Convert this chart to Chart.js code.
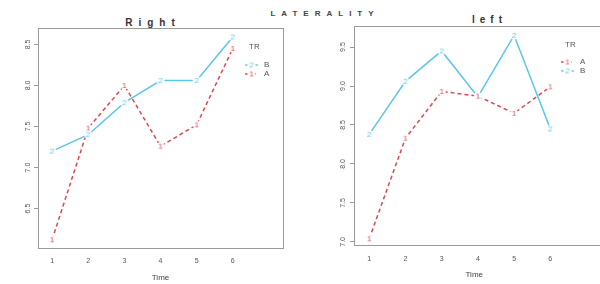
<!DOCTYPE html>
<html><head><meta charset="utf-8">
<script src="https://cdn.jsdelivr.net/npm/chart.js@4"></script>
<style>
body{margin:0;width:600px;height:284px;background:#fff;position:relative;overflow:hidden;font-family:"Liberation Sans",Arial,sans-serif}
.c{position:absolute;top:0;width:300px;height:284px}
.t{position:absolute;color:#333;font-weight:bold;white-space:nowrap;transform:translate(-50%,-50%)}
</style></head><body>
<div class="t" style="left:322px;top:13px;font-size:8px;letter-spacing:6px;padding-left:6px;color:#444">LATERALITY</div>
<div class="t" style="left:150px;top:22px;font-size:10px;letter-spacing:6px;padding-left:6px">Right</div>
<div class="t" style="left:487px;top:19px;font-size:10px;letter-spacing:5px;padding-left:5px">left</div>
<div class="c" style="left:0"><canvas id="c1" width="300" height="284"></canvas></div>
<div class="c" style="left:300px"><canvas id="c2" width="300" height="284"></canvas></div>
<script>
// ---- data ----
const time = [1, 2, 3, 4, 5, 6];
const timeTicks = [1, 2, 3, 4, 5, 6];
const rightB = [7.20, 7.40, 7.79, 8.06, 8.06, 8.59];
const rightA = [6.12, 7.48, 8.00, 7.26, 7.52, 8.45];
const leftA = [7.04, 8.33, 8.93, 8.87, 8.65, 8.99];
const leftB = [8.38, 9.06, 9.45, 8.86, 9.65, 8.45];
const rightYTicks = [6.5, 7.0, 7.5, 8.0, 8.5];
const leftYTicks = [7.0, 7.5, 8.0, 8.5, 9.0, 9.5];
const legendTitle = 'TR';

const CYAN = 'rgb(92,198,232)';
const RED = 'rgb(218,72,82)';
const AXIS = '#9a9a9a';
const TXT = '#555';

function digitImg(d, color) {
  const c = document.createElement('canvas');
  c.width = 10; c.height = 11;
  const g = c.getContext('2d');
  g.fillStyle = '#fff';
  g.beginPath(); g.arc(5, 5.5, 4, 0, Math.PI * 2); g.fill();
  g.fillStyle = color;
  g.font = '8px "Liberation Sans", Arial, sans-serif';
  g.textAlign = 'center'; g.textBaseline = 'middle';
  g.fillText(d, 5, 6);
  return c;
}

function series(label, vals, color, digit, dashed) {
  return {
    label,
    data: time.map((t, i) => ({ x: t, y: vals[i] })),
    borderColor: color,
    backgroundColor: color,
    borderWidth: 1.5,
    borderDash: dashed ? [4, 3] : [],
    pointStyle: digitImg(digit, color),
    pointRadius: 4,
    tension: 0,
    fill: false
  };
}

const framePlugin = {
  id: 'frame',
  beforeDatasetsDraw(chart, args, opts) {
    const a = chart.chartArea, g = chart.ctx;
    const right = opts.toEdge ? chart.width + 1 : Math.round(a.right) + 0.5;
    const l = Math.round(a.left) + 0.5, t = Math.round(a.top) + 0.5, b = Math.round(a.bottom) + 0.5;
    g.save(); g.strokeStyle = AXIS; g.lineWidth = 1;
    g.strokeRect(l, t, right - l, b - t);
    g.restore();
  }
};

const yLabelPlugin = {
  id: 'ylabels',
  afterDraw(chart, args, opts) {
    const g = chart.ctx, s = chart.scales.y;
    g.save();
    g.fillStyle = TXT;
    g.font = '7px "Liberation Sans", Arial, sans-serif';
    g.textAlign = 'center'; g.textBaseline = 'middle';
    opts.ticks.forEach(v => {
      const py = s.getPixelForValue(v);
      g.save(); g.translate(opts.x, py); g.rotate(-Math.PI / 2);
      g.fillText(v.toFixed(1), 0, 0);
      g.restore();
    });
    g.restore();
  }
};

const legendPlugin = {
  id: 'rlegend',
  afterDraw(chart, args, opts) {
    const g = chart.ctx;
    g.save();
    g.fillStyle = TXT;
    g.font = '8px "Liberation Sans", Arial, sans-serif';
    g.textAlign = 'left'; g.textBaseline = 'middle';
    g.fillText(legendTitle, opts.x + 4, opts.y);
    chart.data.datasets.forEach((ds, i) => {
      const y = opts.y + opts.first + i * 9;
      g.save();
      g.strokeStyle = ds.borderColor; g.lineWidth = 1.3;
      g.setLineDash(ds.borderDash);
      g.beginPath(); g.moveTo(opts.x, y); g.lineTo(opts.x + 13, y); g.stroke();
      g.restore();
      g.drawImage(ds.pointStyle, opts.x + 6.5 - 5, y - 5.5);
      g.fillStyle = TXT;
      g.fillText(ds.label, opts.x + 19, y);
    });
    g.restore();
  }
};

function makeChart(id, datasets, o) {
  return new Chart(document.getElementById(id), {
    type: 'line',
    data: { datasets },
    plugins: [framePlugin, yLabelPlugin, legendPlugin],
    options: {
      responsive: false,
      animation: false,
      layout: { padding: { left: 0, top: o.top, right: o.right, bottom: 0 } },
      plugins: {
        legend: { display: false },
        tooltip: { enabled: false },
        frame: { toEdge: o.toEdge },
        ylabels: { ticks: o.yTicks, x: o.ylabX },
        rlegend: o.legend
      },
      scales: {
        x: {
          type: 'linear', min: o.xMin, max: o.xMax,
          afterBuildTicks: s => { s.ticks = timeTicks.map(v => ({ value: v })); },
          afterFit: s => { s.height = o.xH; },
          grid: { display: false, drawTicks: false },
          border: { display: false },
          ticks: { color: TXT, font: { size: 7, family: '"Liberation Sans", Arial, sans-serif' }, padding: o.xPad, maxRotation: 0, callback: v => String(v) },
          title: { display: true, text: 'Time', color: '#444', font: { size: 8, family: '"Liberation Sans", Arial, sans-serif' }, padding: { top: 0, bottom: o.titlePad } }
        },
        y: {
          type: 'linear', min: o.yMin, max: o.yMax,
          afterBuildTicks: s => { s.ticks = o.yTicks.map(v => ({ value: v })); },
          afterFit: s => { s.width = o.yW; },
          grid: { display: true, drawOnChartArea: false, drawTicks: true, tickLength: 4, color: AXIS },
          border: { display: false },
          ticks: { display: false }
        }
      }
    }
  });
}

makeChart('c1', [series('B', rightB, CYAN, '2', false), series('A', rightA, RED, '1', true)], {
  top: 28, right: 17, xH: 36, yW: 38, toEdge: false,
  xMin: 0.61, xMax: 7.39, yMin: 6.02, yMax: 8.7,
  yTicks: rightYTicks, ylabX: 28, xPad: 9, titlePad: 1,
  legend: { x: 245, y: 47, first: 18 }
});

makeChart('c2', [series('A', leftA, RED, '1', true), series('B', leftB, CYAN, '2', false)], {
  top: 26, right: 4, xH: 39, yW: 54, toEdge: true,
  xMin: 0.58, xMax: 7.22, yMin: 6.96, yMax: 9.77,
  yTicks: leftYTicks, ylabX: 43, xPad: 10, titlePad: 4,
  legend: { x: 261, y: 45, first: 17 }
});
</script>
</body></html>
